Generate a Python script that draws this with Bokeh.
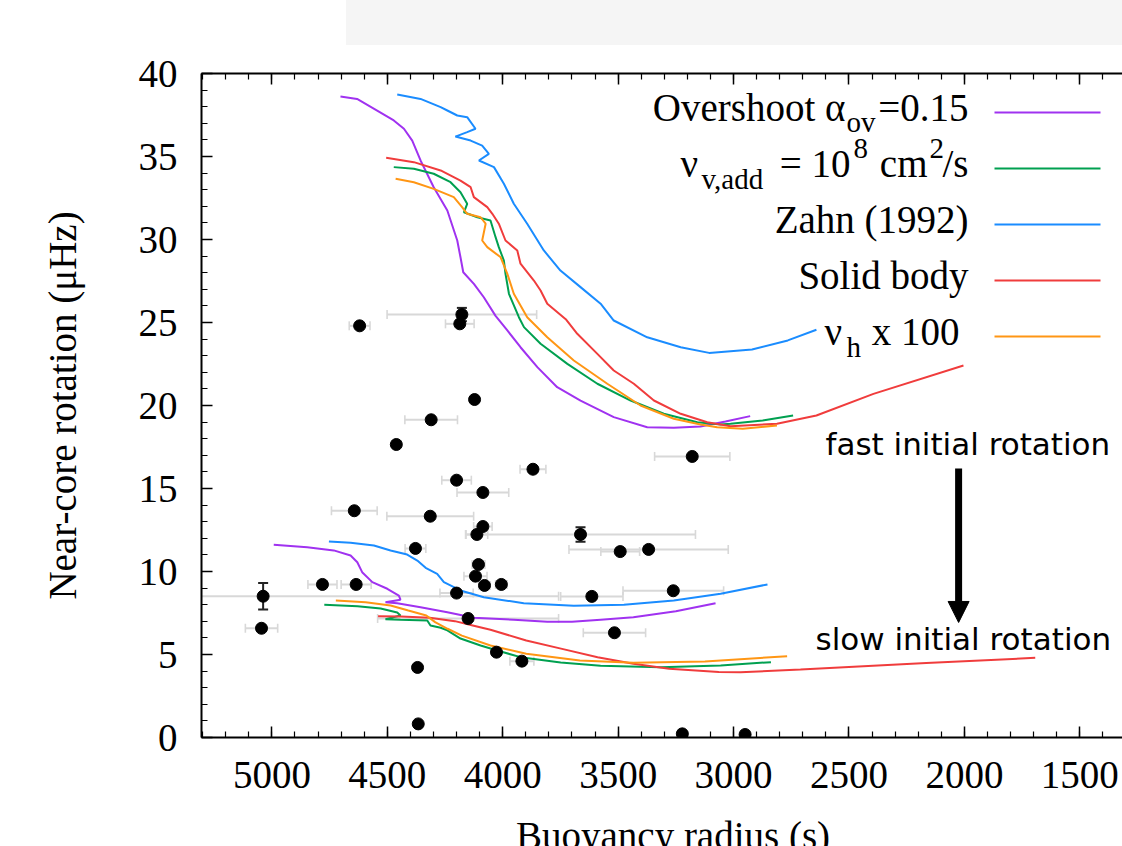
import numpy as np
from bokeh.plotting import figure
from bokeh.models import (Range1d, SingleIntervalTicker, LinearAxis, Label, Arrow,
                          NormalHead, Div, CustomJSTickFormatter)
from bokeh.layouts import column
from bokeh.embed import file_html
from bokeh.resources import INLINE

# ---------------- data ----------------
# observed stars: buoyancy radius (s), near-core rotation (uHz), errors
star_x = [4620, 4177, 4186, 4122, 4310, 4461, 3179, 3869, 4200, 4086,
          4643, 4314, 4086, 4112, 3663, 4378, 3491, 3368, 4105, 4118,
          4079, 4006, 4781, 4635, 5038, 4200, 3614, 3261, 5045, 4150,
          3516, 4027, 3917, 4369, 4366, 3222, 2950]
star_y = [24.80, 25.48, 24.92, 20.36, 19.14, 17.65, 16.93, 16.16, 15.50, 14.76,
          13.66, 13.33, 12.71, 12.23, 12.23, 11.39, 11.20, 11.33, 10.42, 9.72,
          9.16, 9.22, 9.22, 9.22, 8.51, 8.70, 8.50, 8.84, 6.58, 7.17,
          6.31, 5.14, 4.60, 4.22, 0.82, 0.22, 0.18]
star_xerr = [45, 324, 62, 0, 114, 0, 163, 56, 64, 112,
             99, 188, 40, 47, 498, 45, 84, 345, 28, 50,
             25, 25, 63, 65, 1280, 72, 135, 218, 70, 392,
             135, 0, 52, 0, 0, 0, 0]
star_yerr = [0, 0.40, 0, 0, 0, 0, 0, 0, 0, 0,
             0, 0, 0, 0, 0.44, 0, 0, 0, 0, 0,
             0, 0, 0, 0, 0.80, 0, 0, 0, 0, 0,
             0, 0, 0, 0, 0, 0, 0]

# fast initial rotation models
fast_overshoot_x = [4703, 4631, 4544, 4472, 4428, 4392, 4356, 4299, 4240, 4197, 4183, 4171, 4125,
                    4082, 4031, 3980, 3923, 3850, 3764, 3663, 3519, 3374, 3259, 3143, 3035, 2928]
fast_overshoot_y = [38.61, 38.47, 37.77, 37.17, 36.67, 35.96, 34.76, 33.15, 31.75, 29.94, 28.93, 28.03, 27.33,
                    26.52, 25.40, 24.52, 23.51, 22.31, 21.10, 20.30, 19.30, 18.69, 18.66, 18.73, 19.04, 19.36]
fast_vadd_x = [4472, 4385, 4299, 4226, 4183, 4154, 4168, 4110, 4053, 4031, 4017, 3995, 3988,
               3973, 3930, 3908, 3836, 3720, 3590, 3446, 3302, 3157, 3056, 3013, 2874, 2742]
fast_vadd_y = [34.36, 34.26, 33.96, 33.45, 32.85, 32.15, 31.64, 31.34, 31.14, 30.14, 29.54, 28.73, 27.93,
               26.73, 25.32, 24.72, 23.72, 22.51, 21.31, 20.30, 19.50, 18.99, 18.86, 18.90, 19.10, 19.40]
fast_zahn_x = [4457, 4356, 4269, 4240, 4197, 4154, 4118, 4154, 4205, 4139, 4089, 4060, 4103, 4038,
               3995, 3952, 3894, 3822, 3750, 3663, 3576, 3519, 3374, 3229, 3106, 2920, 2765, 2641]
fast_zahn_y = [38.73, 38.47, 37.97, 37.77, 37.47, 37.37, 36.67, 36.47, 36.20, 35.96, 35.66, 35.16, 34.76, 34.36,
               33.36, 32.15, 30.95, 29.34, 28.13, 27.13, 26.13, 25.12, 24.11, 23.51, 23.17, 23.37, 23.92, 24.56]
fast_solid_x = [4505, 4385, 4269, 4183, 4139, 4125, 4067, 4045, 4017, 3988, 3937, 3923, 3865, 3836, 3807,
                3727, 3677, 3590, 3519, 3432, 3345, 3229, 3114, 3013, 2812, 2641, 2394, 2004]
fast_solid_y = [34.92, 34.66, 34.16, 33.55, 33.15, 32.55, 31.95, 31.55, 30.95, 29.94, 29.34, 28.54, 27.53, 26.93, 26.13,
                25.20, 24.32, 23.11, 22.11, 21.31, 20.30, 19.50, 18.99, 18.75, 18.90, 19.40, 20.70, 22.41]
fast_nuh_x = [4464, 4385, 4299, 4212, 4176, 4154, 4096, 4074, 4089, 4067, 4009, 3980, 3952, 3894, 3807,
              3692, 3547, 3403, 3259, 3143, 3071, 2960, 2812]
fast_nuh_y = [33.66, 33.45, 33.05, 32.55, 31.95, 31.55, 31.34, 30.95, 29.94, 29.54, 28.93, 27.93, 26.73, 25.32, 24.11,
              22.71, 21.31, 20.00, 19.20, 18.86, 18.69, 18.60, 18.80]

# slow initial rotation models
slow_overshoot_x = [4992, 4847, 4732, 4659, 4630, 4609, 4565, 4500, 4450, 4443, 4508, 4457, 4356, 4240,
                    4125, 3952, 3807, 3700, 3576, 3434, 3250, 3078]
slow_overshoot_y = [11.61, 11.46, 11.27, 10.96, 10.56, 9.96, 9.36, 8.96, 8.55, 8.30, 8.15, 8.09, 7.85, 7.55,
                    7.21, 7.09, 6.97, 6.97, 7.10, 7.25, 7.60, 8.09]
slow_vadd_x = [4773, 4629, 4529, 4457, 4443, 4508, 4443, 4327, 4313, 4269, 4240, 4183, 4096, 4024,
               3923, 3749, 3576, 3316, 3056, 2838]
slow_vadd_y = [7.99, 7.91, 7.77, 7.53, 7.35, 7.13, 7.09, 7.05, 6.75, 6.61, 6.45, 5.96, 5.54, 5.24,
               4.84, 4.52, 4.32, 4.23, 4.34, 4.54]
slow_zahn_x = [4753, 4659, 4558, 4486, 4414, 4370, 4334, 4284, 4255, 4183, 4082, 3909, 3692, 3475,
               3259, 3056, 2853]
slow_zahn_y = [11.81, 11.73, 11.57, 11.27, 11.02, 10.66, 10.22, 9.86, 9.36, 8.86, 8.45, 8.09, 7.93, 7.99,
               8.25, 8.66, 9.22]
slow_solid_x = [4540, 4440, 4316, 4207, 4130, 4053, 3898, 3743, 3589, 3434, 3279, 3064, 2970, 2710, 2165, 1693]
slow_solid_y = [7.31, 7.29, 7.21, 7.01, 6.75, 6.49, 5.84, 5.34, 4.84, 4.44, 4.14, 3.95, 3.93, 4.10, 4.49, 4.80]
slow_nuh_x = [4723, 4594, 4486, 4409, 4331, 4293, 4239, 4177, 4053, 3898, 3666, 3434, 3124, 2768]
slow_nuh_y = [8.25, 8.15, 7.95, 7.65, 7.35, 6.95, 6.55, 6.14, 5.54, 5.04, 4.64, 4.50, 4.58, 4.90]

x_ticks_interval = 500
y_ticks_interval = 5
x_title = "Buoyancy radius (s)"
y_title = "Near-core rotation (μHz)"

# ---------------- style / layout ----------------
COL_OV = "#a032f0"
COL_VADD = "#00a050"
COL_ZAHN = "#1a8cff"
COL_SOLID = "#f03c3c"
COL_NUH = "#ff9614"
SERIF = "Liberation Serif"
SANS = "DejaVu Sans"

PAGE_W, PAGE_H = 1122, 846
BOX_H = 45                       # gray strip on top
TITLE_H = 34                     # strip at the bottom holding the (cut) x title
FRAME_L, FRAME_T, FRAME_B = 201, 73, 737   # page px of the plot frame
H = PAGE_H - BOX_H - TITLE_H
BASE_FIX = 0.41                  # label baseline correction (fraction of font size)


def sx(px):
    return px - FRAME_L


def sy(py):
    return FRAME_B - py


p = figure(width=PAGE_W, height=H, output_backend="svg", toolbar_location=None,
           x_range=Range1d(5305, 1315), y_range=Range1d(0, 40),
           min_border_left=FRAME_L, min_border_right=0,
           min_border_top=FRAME_T - BOX_H, min_border_bottom=BOX_H + H - FRAME_B)
p.outline_line_color = None
p.outline_line_alpha = 0
p.outline_line_width = 0
p.xgrid.visible = False
p.ygrid.visible = False
p.background_fill_color = "white"
p.border_fill_color = "white"


def style_axis(ax):
    ax.axis_line_width = 2
    ax.axis_line_color = "black"
    ax.major_tick_in = 11
    ax.major_tick_out = 0
    ax.minor_tick_in = 6
    ax.minor_tick_out = 0
    ax.major_tick_line_width = 1.5
    ax.minor_tick_line_width = 1.2
    ax.major_tick_line_color = "black"
    ax.minor_tick_line_color = "black"
    ax.major_label_text_font = SERIF
    ax.major_label_text_font_size = "39px"
    ax.major_label_text_color = "black"


xax = p.below[0]
xax.ticker = SingleIntervalTicker(interval=x_ticks_interval, num_minor_ticks=5)
style_axis(xax)
xax.major_label_standoff = 24

yax = p.left[0]
yax.ticker = SingleIntervalTicker(interval=y_ticks_interval, num_minor_ticks=5)
style_axis(yax)
yax.major_label_standoff = 24
yax.axis_label = y_title
yax.axis_label_text_font = SERIF
yax.axis_label_text_font_size = "39px"
yax.axis_label_text_font_style = "normal"
yax.axis_label_text_color = "black"
yax.axis_label_standoff = 52

top = LinearAxis(ticker=SingleIntervalTicker(interval=x_ticks_interval, num_minor_ticks=5),
                 formatter=CustomJSTickFormatter(code="return ''"))
style_axis(top)
top.major_label_text_font_size = "1px"
top.major_label_standoff = 0
p.add_layout(top, "above")

# ---- gray x error bars ----
sx_arr = np.array(star_x, float)
sy_arr = np.array(star_y, float)
xe = np.array(star_xerr, float)
ye = np.array(star_yerr, float)
m = xe > 0
GRAY = "#d8d8d8"
p.segment(sx_arr[m] - xe[m], sy_arr[m], sx_arr[m] + xe[m], sy_arr[m], line_color=GRAY, line_width=2)
p.scatter(np.concatenate([sx_arr[m] - xe[m], sx_arr[m] + xe[m]]),
          np.concatenate([sy_arr[m], sy_arr[m]]),
          marker="dash", angle=np.pi / 2, size=9, line_color=GRAY, line_width=1.6)

# ---- model curves ----
LW = 2
for xs, ys, c in [
    (fast_overshoot_x, fast_overshoot_y, COL_OV),
    (fast_vadd_x, fast_vadd_y, COL_VADD),
    (fast_zahn_x, fast_zahn_y, COL_ZAHN),
    (fast_solid_x, fast_solid_y, COL_SOLID),
    (fast_nuh_x, fast_nuh_y, COL_NUH),
    (slow_overshoot_x, slow_overshoot_y, COL_OV),
    (slow_vadd_x, slow_vadd_y, COL_VADD),
    (slow_zahn_x, slow_zahn_y, COL_ZAHN),
    (slow_solid_x, slow_solid_y, COL_SOLID),
    (slow_nuh_x, slow_nuh_y, COL_NUH),
]:
    p.line(xs, ys, line_color=c, line_width=LW)

# ---- black y error bars ----
n = ye > 0
p.segment(sx_arr[n], sy_arr[n] - ye[n], sx_arr[n], sy_arr[n] + ye[n], line_color="#222222", line_width=2)
p.scatter(np.concatenate([sx_arr[n], sx_arr[n]]),
          np.concatenate([sy_arr[n] - ye[n], sy_arr[n] + ye[n]]),
          marker="dash", size=10, line_color="#222222", line_width=2)

# ---- points ----
p.scatter(star_x, star_y, size=12, fill_color="black", line_color="black")


# ---- text helpers (px, py = wanted page position of the text baseline) ----
def add_text(text, px, py, size, align="left", font=SERIF):
    p.add_layout(Label(x=sx(px), y=sy(py - BASE_FIX * size), x_units="screen", y_units="screen",
                       text=text, text_font=font, text_font_size=f"{size}px", text_color="black",
                       text_align=align, text_baseline="alphabetic"))


MAIN, SMALL = 39, 29
# legend
LINE_Y = [112, 168, 224, 280, 336]
for ly, c in zip(LINE_Y, [COL_OV, COL_VADD, COL_ZAHN, COL_SOLID, COL_NUH]):
    p.add_layout(Arrow(x_start=sx(994), y_start=sy(ly), x_end=sx(1100), y_end=sy(ly),
                       start_units="screen", end_units="screen", start=None, end=None,
                       line_color=c, line_width=2))

b = [ly + 11 for ly in LINE_Y]
add_text("Overshoot α", 845, b[0], MAIN, align="right")
add_text("ov", 846, b[0] + 10, SMALL)
add_text("=0.15", 968, b[0], MAIN, align="right")

add_text("ν", 680, b[1], MAIN)
add_text("v,add", 701, b[1] + 11, SMALL)
add_text("= 10", 850, b[1], MAIN, align="right")
add_text("8", 853, b[1] - 19, SMALL)
add_text("cm", 927, b[1], MAIN, align="right")
add_text("2", 929, b[1] - 19, SMALL)
add_text("/s", 968, b[1], MAIN, align="right")

add_text("Zahn (1992)", 968, b[2], MAIN, align="right")
add_text("Solid body", 968, b[3], MAIN, align="right")

add_text("ν", 824, b[4], MAIN)
add_text("h", 846, b[4] + 11, SMALL)
add_text("x 100", 959, b[4], MAIN, align="right")

# annotations
add_text("fast initial rotation", 825, 456, 31, font=SANS)
add_text("slow initial rotation", 815, 651, 31, font=SANS)
ARROW_X, ARROW_Y0, ARROW_Y1 = 2025, 16.2, 6.93
p.add_layout(Arrow(x_start=ARROW_X, y_start=ARROW_Y0, x_end=ARROW_X, y_end=ARROW_Y1,
                   line_width=7, line_color="black",
                   end=NormalHead(size=21, fill_color="black", line_color="black", line_width=1)))

# ---- page strips ----
box = Div(text="", width=776, height=BOX_H, margin=(0, 0, 0, 346),
          styles={"background-color": "#f5f5f5"})

# x-axis title, cut by the page bottom as in the reference
title_html = (
    f'<div style="position:relative;width:{PAGE_W}px;height:{TITLE_H}px;overflow:hidden;">'
    f'<span style="position:absolute;left:516px;top:4px;font-family:\'Liberation Serif\';'
    f'font-size:39px;line-height:39px;color:black;white-space:nowrap;">{x_title}</span></div>'
)
xtitle = Div(text=title_html, width=PAGE_W, height=TITLE_H, margin=0,
             styles={"overflow": "hidden"})

layout = column(box, p, xtitle, spacing=0)

open("out.html", "w").write(file_html(layout, INLINE))
